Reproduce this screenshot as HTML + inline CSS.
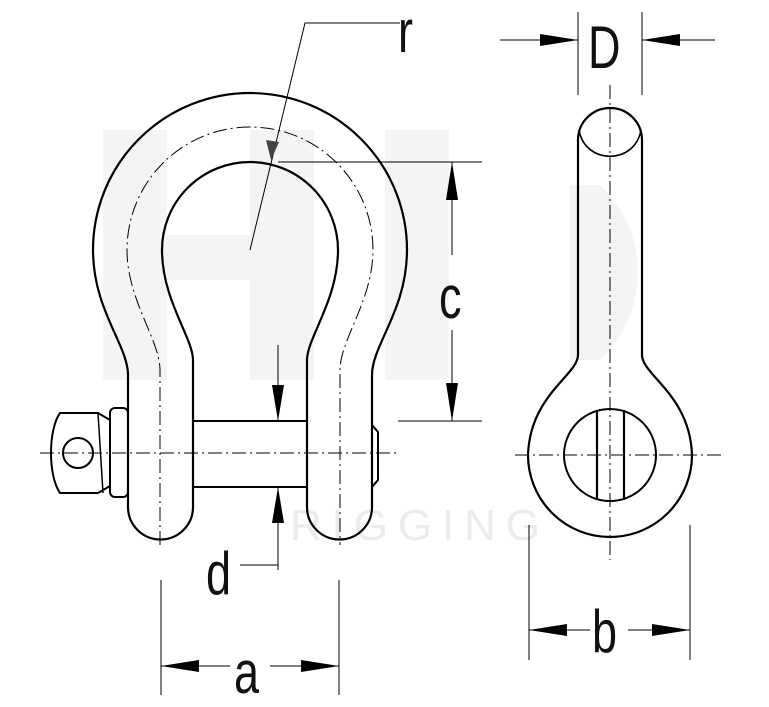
<!DOCTYPE html>
<html><head><meta charset="utf-8"><style>
html,body{margin:0;padding:0;background:#fff;}
svg{display:block;}
text{font-family:"Liberation Sans",sans-serif;fill:#111;}
</style></head><body>
<svg width="769" height="707" viewBox="0 0 769 707" xmlns="http://www.w3.org/2000/svg">
<defs>
<marker id="ah" viewBox="0 0 10 10" refX="10" refY="5" markerWidth="10" markerHeight="10" markerUnits="userSpaceOnUse" orient="auto"><path d="M0,3 L10,5 L0,7Z" fill="#000"/></marker>
</defs>
<g fill="#f4f4f4">
<rect x="103" y="130" width="64" height="250"/><rect x="103" y="235" width="200" height="45"/><rect x="250" y="130" width="64" height="250"/>
<rect x="385" y="130" width="64" height="250"/>
<path d="M570,185 L600,185 A120,120 0 0 1 600,360 L570,360Z"/>
</g>
<text x="290" y="540" font-size="44" style="fill:#ececec" textLength="250">RIGGING</text>

<g fill="none" stroke="#000">
<g stroke-width="1" stroke-dasharray="14,4,2,4">
<path d="M160,545 L160,370 C160,340 127,300 127,250 A123,123 0 0 1 373,250 C373,300 340,340 340,370 L340,545"/>
<line x1="40" y1="453" x2="400" y2="453"/>
<line x1="610" y1="85" x2="610" y2="560"/>
<line x1="515" y1="455" x2="725" y2="455"/>
</g>
<path stroke-width="2.2" d="M128,507 L128,375 C128,345 93,310 93,250 A157,157 0 0 1 407,250 C407,310 372,345 372,375 L372,507 A32.5,32.5 0 0 1 307,507 L307,360 C307,338 338,300 338,250 A88,88 0 0 0 162,250 C162,300 193,338 193,360 L193,507 A32.5,32.5 0 0 1 128,507 Z"/>
<line x1="193" y1="421" x2="307" y2="421" stroke-width="2"/>
<line x1="193" y1="487" x2="307" y2="487" stroke-width="2"/>
<rect x="110" y="408" width="18" height="89" rx="5" stroke-width="2"/>
<path stroke-width="2" d="M110,420 L98,413 L60,413 C48,430 48,476 60,493 L98,493 L110,486"/>
<line x1="98" y1="413" x2="103" y2="493" stroke-width="1.5"/>
<circle cx="78" cy="453" r="15" stroke-width="2"/>
<path stroke-width="2" d="M372,425 L378,432 L378,480 L372,487"/>
<path stroke-width="2.2" d="M578,140 A32,32 0 0 1 642,140 L642,355 C642,375 690,395 692,455 A82,82 0 0 1 528,455 C530,395 578,375 578,355 Z"/>
<path stroke-width="1.6" d="M579,130 C585,165 635,165 641,130"/>
<circle cx="610" cy="455" r="46" stroke-width="2"/>
<line x1="597" y1="410" x2="597" y2="500" stroke-width="2.2"/>
<line x1="624" y1="410" x2="624" y2="500" stroke-width="2.2"/>

<g stroke-width="1">
<path d="M250,250 L305,23 L400,23"/>
<line x1="278" y1="162" x2="482" y2="162"/>
<line x1="398" y1="421" x2="482" y2="421"/>
<line x1="452" y1="255" x2="452" y2="162"/>
<line x1="452" y1="330" x2="452" y2="421"/>
<line x1="278" y1="345" x2="278" y2="421"/>
<line x1="278" y1="570" x2="278" y2="487"/>
<path d="M278,520 L278,565 L240,565"/>
<line x1="161" y1="580" x2="161" y2="695"/>
<line x1="339" y1="580" x2="339" y2="695"/>
<line x1="230" y1="666" x2="161" y2="666"/>
<line x1="270" y1="666" x2="339" y2="666"/>
<line x1="529" y1="525" x2="529" y2="660"/>
<line x1="690" y1="525" x2="690" y2="660"/>
<line x1="590" y1="630" x2="529" y2="630"/>
<line x1="628" y1="630" x2="690" y2="630"/>
<line x1="578" y1="12" x2="578" y2="95"/>
<line x1="642" y1="12" x2="642" y2="95"/>
<line x1="500" y1="40" x2="578" y2="40"/>
<line x1="715" y1="40" x2="642" y2="40"/>
</g>
</g>
<g fill="#000">
<path d="M271,160 L266,140 L279,142Z" fill="#444"/>
<path d="M452,162 L446,200 L458,200Z"/><path d="M452,421 L446,383 L458,383Z"/>
<path d="M278,421 L272,385 L284,385Z"/><path d="M278,487 L272,523 L284,523Z"/>
<path d="M161,666 L199,660 L199,672Z"/><path d="M339,666 L301,660 L301,672Z"/>
<path d="M529,630 L567,624 L567,636Z"/><path d="M690,630 L652,624 L652,636Z"/>
<path d="M578,40 L540,34 L540,46Z"/><path d="M642,40 L680,34 L680,46Z"/>
</g>
<g font-size="60">
<text transform="translate(398,52) scale(0.75,1)">r</text>
<text transform="translate(439,318) scale(0.75,1)">c</text>
<text transform="translate(206,594) scale(0.75,1)">d</text>
<text transform="translate(234,693) scale(0.75,1)">a</text>
<text transform="translate(592,652) scale(0.75,1)">b</text>
<text transform="translate(588,68) scale(0.75,1)">D</text>
</g>
</svg>
</body></html>
